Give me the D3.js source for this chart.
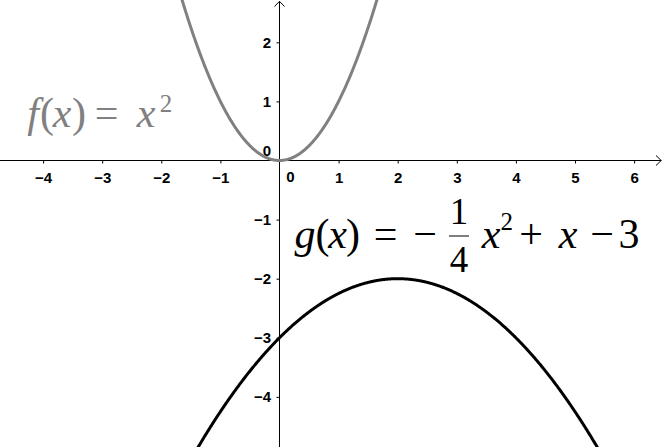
<!DOCTYPE html>
<html><head><meta charset="utf-8">
<script src="https://cdn.jsdelivr.net/npm/d3@7"></script>
<style>body{margin:0;background:#fff}svg{display:block}</style>
</head><body>
<svg id="c" width="662" height="447"></svg>
<script>
// ---- data ----
const xTicks = [-4, -3, -2, -1, 1, 2, 3, 4, 5, 6];
const yTicks = [-4, -3, -2, -1, 1, 2];
const fCoef = [1, 0, 0];        // f(x) = x^2          (a, b, c)
const gCoef = [-0.25, 1, -3];   // g(x) = -1/4 x^2 + x - 3
const xDomain = [-4.729, 6.472];
const yDomain = [2.716, -4.848];

// ---- setup ----
const W = 662, H = 447;
const SANS = "'Liberation Sans', Arial, sans-serif";
const SERIF = "'Liberation Serif', 'Times New Roman', serif";
const svg = d3.select("#c");
const x = d3.scaleLinear().domain(xDomain).range([0, W]);
const y = d3.scaleLinear().domain(yDomain).range([0, H]);
const x0 = x(0), y0 = y(0);

svg.append("rect").attr("width", W).attr("height", H).attr("fill", "#fff");
svg.append("defs").append("clipPath").attr("id", "clip")
  .append("rect").attr("width", W).attr("height", H);

// ---- axes ----
const fmt = d => (d < 0 ? "\u2212" + (-d) : String(d));
const gx = svg.append("g").attr("transform", `translate(0,${y0})`)
  .call(d3.axisBottom(x).tickValues(xTicks).tickSize(3).tickPadding(8.5).tickFormat(fmt));
const gy = svg.append("g").attr("transform", `translate(${x0},0)`)
  .call(d3.axisLeft(y).tickValues(yTicks).tickSize(3).tickPadding(5.5).tickFormat(fmt));
[gx, gy].forEach(g => {
  g.attr("font-family", null).attr("font-size", null);
  g.select(".domain").remove();
  g.selectAll("line").attr("stroke", "#000");
  g.selectAll("text").attr("fill", "#000").style("font-family", SANS)
    .style("font-size", "15px").style("font-weight", "bold");
});

// axis lines + arrows
const ax = svg.append("g").attr("stroke", "#000").attr("fill", "none").attr("stroke-width", 1);
ax.append("line").attr("x1", 0).attr("x2", W - 0.5).attr("y1", y0).attr("y2", y0);
ax.append("line").attr("x1", x0).attr("x2", x0).attr("y1", 1.5).attr("y2", H);
ax.append("path").attr("d", `M${W - 6},${y0 - 5}L${W - 0.8},${y0}L${W - 6},${y0 + 5}`);
ax.append("path").attr("d", `M${x0 - 5},${6.5}L${x0},${1.3}L${x0 + 5},${6.5}`);

// zero labels
const lab = svg.append("g").attr("fill", "#000");
[[x0 + 11, y0 + 21.6, "middle"], [x0 - 8.5, y0 - 5, "end"]].forEach(([lx, ly, an]) => {
  lab.append("text").attr("x", lx).attr("y", ly).attr("text-anchor", an)
    .style("font-family", SANS).style("font-size", "15px").style("font-weight", "bold").text("0");
});

// ---- curves ----
const quad = c => t => c[0] * t * t + c[1] * t + c[2];
const xs = d3.range(xDomain[0], xDomain[1] + 0.005, 0.01);
const line = d3.line().x(d => x(d[0])).y(d => y(d[1]));
const curves = svg.append("g").attr("clip-path", "url(#clip)").attr("fill", "none")
  .attr("stroke-width", 3).attr("stroke-linejoin", "round").attr("stroke-linecap", "round");
[[fCoef, "#808080"], [gCoef, "#000"]].forEach(([c, col]) => {
  const fn = quad(c);
  const pts = xs.map(t => [t, fn(t)]).filter(p => p[1] > yDomain[1] - 1 && p[1] < yDomain[0] + 1);
  curves.append("path").attr("d", line(pts)).attr("stroke", col);
});

// ---- formula labels ----
function piece(g, t, cx, by, it, fs) {
  g.append("text").attr("x", cx).attr("y", by).attr("text-anchor", "middle")
    .style("font-family", SERIF)
    .style("font-style", it ? "italic" : "normal").style("font-size", fs + "px").text(t);
}
const fl = svg.append("g").attr("fill", "#808080");
const fb = 127;
piece(fl, "f", 33, fb, true, 42);
piece(fl, "(", 47, fb, false, 42);
piece(fl, "x", 62, fb, true, 42);
piece(fl, ")", 79, fb, false, 42);
piece(fl, "=", 106.5, fb, false, 42);
piece(fl, "x", 146, fb, true, 42);
piece(fl, "2", 166, fb - 15, false, 25);

const gl = svg.append("g").attr("fill", "#000");
const gb = 248;
piece(gl, "g", 305, gb, true, 42);
piece(gl, "(", 322.5, gb, false, 42);
piece(gl, "x", 337.5, gb, true, 42);
piece(gl, ")", 353, gb, false, 42);
piece(gl, "=", 385.5, gb, false, 42);
piece(gl, "\u2212", 425, gb, false, 42);
piece(gl, "1", 459, 224, false, 37);
gl.append("line").attr("x1", 449).attr("x2", 469).attr("y1", 236).attr("y2", 236)
  .attr("stroke", "#000").attr("stroke-width", 1);
piece(gl, "4", 459, 272, false, 37);
piece(gl, "x", 491, gb, true, 42);
piece(gl, "2", 506.7, gb - 18, false, 25);
piece(gl, "+", 531, gb, false, 42);
piece(gl, "x", 568, gb, true, 42);
piece(gl, "\u2212", 602, gb, false, 42);
piece(gl, "3", 629, gb, false, 42);
</script>
</body></html>
